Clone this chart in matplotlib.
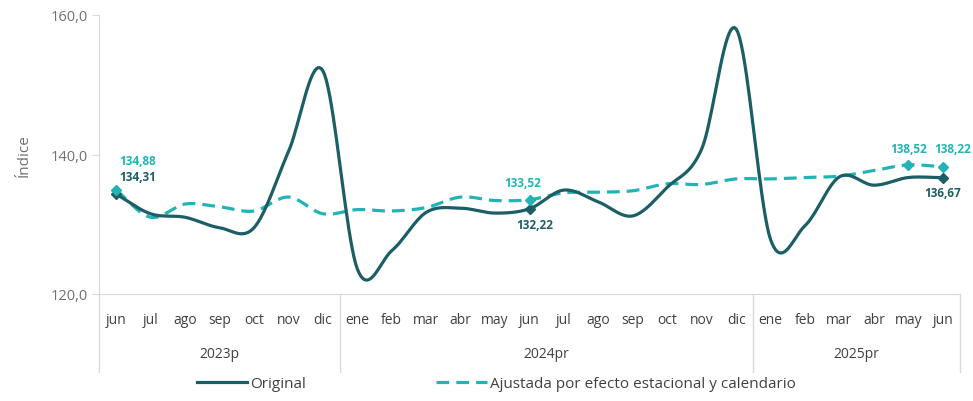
import numpy as np
import matplotlib.pyplot as plt
from matplotlib.lines import Line2D

plt.rcParams['font.family'] = ['Open Sans', 'DejaVu Sans']

months = ["jun", "jul", "ago", "sep", "oct", "nov", "dic",
          "ene", "feb", "mar", "abr", "may", "jun", "jul", "ago", "sep", "oct", "nov", "dic",
          "ene", "feb", "mar", "abr", "may", "jun"]
years = ["2023p", "2024pr", "2025pr"]
year_spans = [(0, 6), (7, 18), (19, 24)]

original = [134.31, 131.5, 131.0, 129.5, 129.5, 140.4, 152.0,
            123.6, 126.2, 131.7, 132.3, 131.6, 132.22, 134.9, 133.2, 131.2, 135.3, 140.8, 158.0,
            127.8, 129.8, 136.8, 135.6, 136.7, 136.67]
ajustada = [134.88, 131.0, 132.9, 132.5, 131.9, 133.9, 131.5,
            132.1, 131.9, 132.4, 133.9, 133.4, 133.52, 134.5, 134.6, 134.8, 135.8, 135.7, 136.5,
            136.5, 136.7, 136.9, 137.7, 138.52, 138.22]

c_orig = "#1b5e65"
c_adj = "#22b3b6"
grey = "#707070"
line_grey = "#d9d9d9"


def smooth(y, n=20):
    # catmull-rom curve through the points (like excel's smoothed line)
    y = np.asarray(y, float)
    x = np.arange(len(y), dtype=float)
    p = np.concatenate([[2 * y[0] - y[1]], y, [2 * y[-1] - y[-2]]])
    xs, ys = [], []
    for i in range(len(y) - 1):
        t = np.linspace(0, 1, n, endpoint=False)
        p0, p1, p2, p3 = p[i], p[i + 1], p[i + 2], p[i + 3]
        yy = 0.5 * ((2 * p1) + (-p0 + p2) * t + (2 * p0 - 5 * p1 + 4 * p2 - p3) * t ** 2
                    + (-p0 + 3 * p1 - 3 * p2 + p3) * t ** 3)
        xs.append(x[i] + t)
        ys.append(yy)
    xs.append([x[-1]])
    ys.append([y[-1]])
    return np.concatenate(xs), np.concatenate(ys)


def fmt(v):
    return "{:.2f}".format(v).replace(".", ",")


fig = plt.figure(figsize=(9.73, 4.02), dpi=100)
ax = fig.add_axes([99 / 973, 107 / 402, 861 / 973, 279 / 402])

xo, yo = smooth(original)
xa, ya = smooth(ajustada)
ax.plot(xa, ya, color=c_adj, lw=2.3, dashes=(4, 2.2))
ax.plot(xo, yo, color=c_orig, lw=2.3)

x = np.arange(len(months))
for i in [0, 12, 24]:
    ax.plot(x[i], original[i], marker="D", ms=5, color=c_orig)
for i in [0, 12, 23, 24]:
    ax.plot(x[i], ajustada[i], marker="D", ms=5, color=c_adj)

# data labels
kw = dict(fontsize=8.5, fontweight="bold", va="center")
ax.text(0.08, 139.1, fmt(ajustada[0]), color=c_adj, ha="left", **kw)
ax.text(0.08, 136.8, fmt(original[0]), color=c_orig, ha="left", **kw)
ax.text(11.81, 136.05, fmt(ajustada[12]), color=c_adj, ha="center", **kw)
ax.text(12.16, 130.0, fmt(original[12]), color=c_orig, ha="center", **kw)
ax.text(23.0, 140.8, fmt(ajustada[23]), color=c_adj, ha="center", **kw)
ax.text(24.3, 140.8, fmt(ajustada[24]), color=c_adj, ha="center", **kw)
ax.text(24.0, 134.6, fmt(original[24]), color=c_orig, ha="center", **kw)

ax.set_xlim(-0.5, 24.5)
ax.set_ylim(120, 160)
ax.set_yticks([120, 140, 160])
ax.set_yticklabels(["120,0", "140,0", "160,0"])
ax.tick_params(axis="y", colors=grey, labelsize=10.5, length=5, color=line_grey, pad=3)
ax.set_xticks([])
for s in ["top", "right"]:
    ax.spines[s].set_visible(False)
ax.spines["left"].set_color(line_grey)
ax.spines["bottom"].set_color(line_grey)
ax.set_ylabel("Índice", color=grey, fontsize=11, labelpad=14)

# category table under the axis
for i, m in enumerate(months):
    ax.text(i, -0.09, m, transform=ax.get_xaxis_transform(), ha="center", va="center",
            color="#404040", fontsize=10)
for (a, b), yname in zip(year_spans, years):
    ax.text((a + b) / 2, -0.215, yname, transform=ax.get_xaxis_transform(), ha="center",
            va="center", color="#404040", fontsize=10)
for xb in [-0.5, 6.5, 18.5, 24.5]:
    ax.add_line(Line2D([xb, xb], [0, -0.28], transform=ax.get_xaxis_transform(),
                       color=line_grey, lw=1, clip_on=False))

handles = [Line2D([], [], color=c_orig, lw=2.3),
           Line2D([], [], color=c_adj, lw=2.3, dashes=(4, 2.2))]
fig.legend(handles, ["Original", "Ajustada por efecto estacional y calendario"],
           loc="center", bbox_to_anchor=(0.51, 17 / 402), ncol=2, frameon=False,
           handlelength=3.3, columnspacing=8.5, handletextpad=0.2,
           prop={"size": 11}, labelcolor="#404040")

fig.savefig("out.png", dpi=100)
